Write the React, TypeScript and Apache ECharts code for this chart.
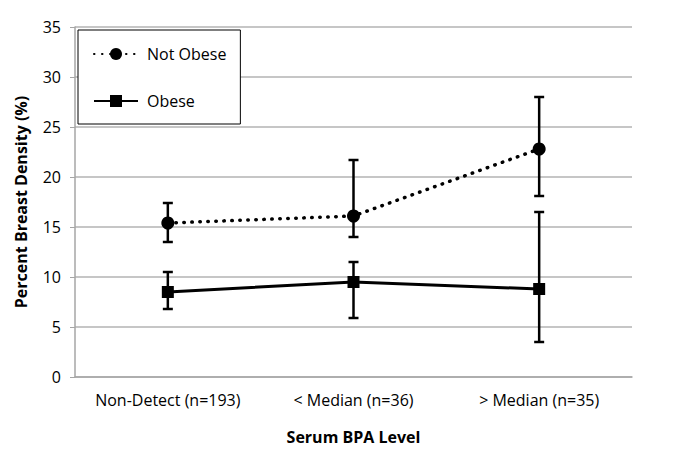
import React, { useEffect, useRef } from "react";
import * as echarts from "echarts";

const categories = ["Non-Detect (n=193)", "< Median (n=36)", "> Median (n=35)"];
const yTicks = [0, 5, 10, 15, 20, 25, 30, 35];
const notObese = [15.4, 16.1, 22.8];
const notObeseLow = [13.5, 14.0, 18.1];
const notObeseHigh = [17.4, 21.7, 28.0];
const obese = [8.5, 9.5, 8.8];
const obeseLow = [6.8, 5.9, 3.5];
const obeseHigh = [10.5, 11.5, 16.5];

const FONT = "'Open Sans', 'Noto Sans', sans-serif";

function errorData(low: number[], high: number[]) {
  return categories.map((_, i) => [i, low[i], high[i]]);
}

function renderError(params: any, api: any) {
  const x = api.value(0);
  const lo = api.coord([x, api.value(1)]);
  const hi = api.coord([x, api.value(2)]);
  const hw = 5;
  const style = { stroke: "#000", lineWidth: 2.5 };
  return {
    type: "group",
    children: [
      { type: "line", shape: { x1: lo[0], y1: lo[1], x2: hi[0], y2: hi[1] }, style },
      { type: "line", shape: { x1: lo[0] - hw, y1: lo[1], x2: lo[0] + hw, y2: lo[1] }, style },
      { type: "line", shape: { x1: hi[0] - hw, y1: hi[1], x2: hi[0] + hw, y2: hi[1] }, style },
    ],
  };
}

export default function App() {
  const ref = useRef<HTMLDivElement>(null);
  useEffect(() => {
    if (!ref.current) return;
    const chart = echarts.init(ref.current, null, { renderer: "svg" });
    chart.setOption({
      animation: false,
      backgroundColor: "#fff",
      textStyle: { fontFamily: FONT },
      grid: { left: 75, right: 53, top: 27, bottom: 80, containLabel: false },
      legend: {
        left: 78,
        top: 30,
        orient: "vertical",
        backgroundColor: "#fff",
        borderColor: "#000",
        borderWidth: 1,
        padding: [16, 14, 15, 15],
        itemGap: 31,
        itemWidth: 44,
        itemHeight: 15,
        textStyle: { fontFamily: FONT, fontSize: 16, color: "#000", padding: [0, 0, 0, 4] },
        data: ["Not Obese", "Obese"],
      },
      xAxis: {
        type: "category",
        data: categories,
        boundaryGap: true,
        axisLine: { lineStyle: { color: "#a6a6a6", width: 1.5 } },
        axisTick: { show: false },
        axisLabel: { color: "#000", fontSize: 16, fontFamily: FONT, margin: 15, interval: 0 },
        name: "Serum BPA Level",
        nameLocation: "middle",
        nameGap: 52,
        nameTextStyle: { color: "#000", fontSize: 16, fontWeight: "bold", fontFamily: FONT },
      },
      yAxis: {
        type: "value",
        min: 0,
        max: 35,
        interval: 5,
        axisLine: { show: true, lineStyle: { color: "#a6a6a6", width: 1.5 } },
        axisTick: { show: true, length: 5, lineStyle: { color: "#a6a6a6" } },
        splitLine: { lineStyle: { color: "#b3b3b3", width: 1.5 } },
        axisLabel: {
          color: "#000",
          fontSize: 16,
          fontFamily: FONT,
          margin: 14,
          formatter: (v: number) => (yTicks.includes(v) ? String(v) : ""),
        },
        name: "Percent Breast Density (%)",
        nameLocation: "middle",
        nameGap: 46,
        nameTextStyle: { color: "#000", fontSize: 16, fontWeight: "bold", fontFamily: FONT },
      },
      series: [
        {
          name: "Not Obese",
          type: "line",
          data: notObese,
          symbol: "circle",
          symbolSize: 13,
          itemStyle: { color: "#000" },
          lineStyle: { color: "#000", width: 3.5, type: [0.5, 7.5], cap: "round" },
          z: 3,
        },
        {
          name: "Obese",
          type: "line",
          data: obese,
          symbol: "rect",
          symbolSize: 12,
          itemStyle: { color: "#000" },
          lineStyle: { color: "#000", width: 3 },
          z: 3,
        },
        {
          name: "Not Obese error",
          type: "custom",
          data: errorData(notObeseLow, notObeseHigh),
          renderItem: renderError,
          z: 2,
        },
        {
          name: "Obese error",
          type: "custom",
          data: errorData(obeseLow, obeseHigh),
          renderItem: renderError,
          z: 2,
        },
      ],
    });
    return () => chart.dispose();
  }, []);
  return (
    <div
      ref={ref}
      style={{ position: "fixed", left: 0, top: 0, width: 685, height: 457 }}
    />
  );
}
